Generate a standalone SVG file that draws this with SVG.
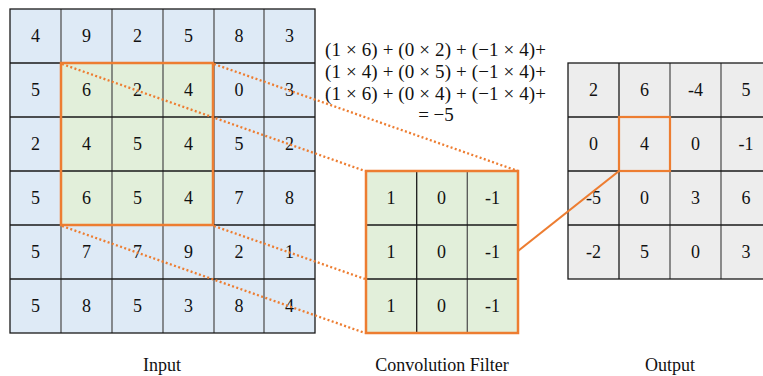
<svg xmlns="http://www.w3.org/2000/svg" width="763" height="376" viewBox="0 0 763 376">
<style>
.t{font-family:"Liberation Serif","Times New Roman",serif;font-size:18px;fill:#111;text-anchor:middle}
.lbl{font-family:"Liberation Serif","Times New Roman",serif;font-size:18px;fill:#111;text-anchor:middle}
.m{font-family:"Liberation Serif","Times New Roman",serif;font-size:19px;fill:#111;text-anchor:middle}
.g{stroke:#1a1a1a;stroke-width:1.3;fill:none}
.gv{stroke:#555;stroke-width:1.3;fill:none}
.hl{fill:none;stroke:#ED7D31;stroke-width:2.5}
.dot{stroke:#ED7D31;stroke-width:2.3;stroke-dasharray:2 2.4;fill:none}
.sol{stroke:#ED7D31;stroke-width:2.2;fill:none}
</style>

<g id="input">
<rect x="10" y="9" width="305" height="324" fill="#DEEAF6"/>
<rect x="61" y="63" width="152" height="162" fill="#E2EFDA"/>
<path class="gv" d="M61 9V333M112 9V333M163 9V333M214 9V333M264 9V333"/>
<path class="g" d="M10 63H315M10 117H315M10 171H315M10 225H315M10 279H315"/>
<rect class="g" x="10" y="9" width="305" height="324"/>
<rect class="hl" x="61" y="63" width="152" height="162"/>
<g class="t">
<text x="35.5" y="42">4</text><text x="86.5" y="42">9</text><text x="137.5" y="42">2</text><text x="188.5" y="42">5</text><text x="239" y="42">8</text><text x="289.5" y="42">3</text>
<text x="35.5" y="96">5</text><text x="86.5" y="96">6</text><text x="137.5" y="96">2</text><text x="188.5" y="96">4</text><text x="239" y="96">0</text><text x="289.5" y="96">3</text>
<text x="35.5" y="150">2</text><text x="86.5" y="150">4</text><text x="137.5" y="150">5</text><text x="188.5" y="150">4</text><text x="239" y="150">5</text><text x="289.5" y="150">2</text>
<text x="35.5" y="204">5</text><text x="86.5" y="204">6</text><text x="137.5" y="204">5</text><text x="188.5" y="204">4</text><text x="239" y="204">7</text><text x="289.5" y="204">8</text>
<text x="35.5" y="258">5</text><text x="86.5" y="258">7</text><text x="137.5" y="258">7</text><text x="188.5" y="258">9</text><text x="239" y="258">2</text><text x="289.5" y="258">1</text>
<text x="35.5" y="312">5</text><text x="86.5" y="312">8</text><text x="137.5" y="312">5</text><text x="188.5" y="312">3</text><text x="239" y="312">8</text><text x="289.5" y="312">4</text>
</g>
<text class="lbl" x="162" y="371">Input</text>
</g>

<g id="formula">
<text class="m" x="435.5" y="56" textLength="221" lengthAdjust="spacing">(1 × 6) + (0 × 2) + (−1 × 4)+</text>
<text class="m" x="435.5" y="78" textLength="221" lengthAdjust="spacing">(1 × 4) + (0 × 5) + (−1 × 4)+</text>
<text class="m" x="435.5" y="100" textLength="221" lengthAdjust="spacing">(1 × 6) + (0 × 4) + (−1 × 4)+</text>
<text class="m" x="436" y="121">= −5</text>
</g>

<g id="filter">
<rect x="366" y="171" width="152" height="162" fill="#E2EFDA"/>
<path class="g" d="M416.7 171V333"/>
<path class="gv" d="M467.3 171V333"/>
<path class="g" d="M366 225H518M366 279H518"/>
<rect class="hl" x="366" y="171" width="152" height="162"/>
<g class="t">
<text x="391" y="204">1</text><text x="441.5" y="204">0</text><text x="492.5" y="204">-1</text>
<text x="391" y="258">1</text><text x="441.5" y="258">0</text><text x="492.5" y="258">-1</text>
<text x="391" y="312">1</text><text x="441.5" y="312">0</text><text x="492.5" y="312">-1</text>
</g>
<text class="lbl" x="442" y="371">Convolution Filter</text>
</g>

<g id="output">
<rect x="568" y="63" width="203" height="216" fill="#EDEDED"/>
<path class="g" d="M619 63V279"/>
<path class="gv" d="M670 63V279M721 63V279"/>
<path class="g" d="M568 117H771M568 171H771M568 225H771"/>
<rect class="g" x="568" y="63" width="203" height="216"/>
<rect class="hl" x="619" y="117" width="51" height="54" style="stroke-width:2.2"/>
<g class="t">
<text x="593.5" y="96">2</text><text x="644.5" y="96">6</text><text x="695.5" y="96">-4</text><text x="746" y="96">5</text>
<text x="593.5" y="150">0</text><text x="644.5" y="150">4</text><text x="695.5" y="150">0</text><text x="746" y="150">-1</text>
<text x="593.5" y="204">-5</text><text x="644.5" y="204">0</text><text x="695.5" y="204">3</text><text x="746" y="204">6</text>
<text x="593.5" y="258">-2</text><text x="644.5" y="258">5</text><text x="695.5" y="258">0</text><text x="746" y="258">3</text>
</g>
<text class="lbl" x="670" y="371">Output</text>
</g>

<g id="connectors">
<line class="dot" x1="62" y1="64" x2="365" y2="171"/>
<line class="dot" x1="214" y1="64" x2="518" y2="171"/>
<line class="dot" x1="62" y1="226" x2="365" y2="333"/>
<line class="dot" x1="214" y1="226" x2="365" y2="279"/>
<line class="sol" x1="518" y1="251" x2="619" y2="171"/>
</g>
</svg>
